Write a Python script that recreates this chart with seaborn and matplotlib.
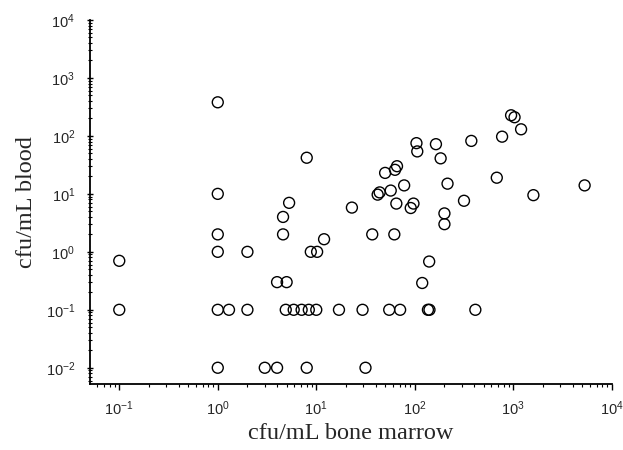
import matplotlib
matplotlib.use("Agg")
import matplotlib.pyplot as plt
import seaborn as sns
import pandas as pd
from matplotlib.ticker import LogLocator, LogFormatterSciNotation, NullFormatter

bone_marrow = [0.1, 0.1, 1, 1, 1, 1, 1, 1, 1.3, 2, 2, 3, 4, 8, 4, 5, 4.6, 4.6, 5.3, 8,
               8.8, 10.2, 12, 4.9, 5.9, 7.1, 8.4, 10, 17, 29.5, 55, 71, 136, 141, 412,
               31.6, 119, 140, 37, 62, 200, 200, 23, 65, 97, 91, 316, 1600, 5300, 680,
               215, 42, 44, 57, 78, 50, 63, 66, 183, 164, 106, 104, 375, 770, 1200, 950, 1030]
blood = [0.7, 0.1, 380, 10, 2, 1, 0.1, 0.01, 0.1, 1, 0.1, 0.01, 0.01, 0.01, 0.3, 0.3, 4, 2, 7, 42,
         1, 1, 1.65, 0.1, 0.1, 0.1, 0.1, 0.1, 0.1, 0.1, 0.1, 0.1, 0.1, 0.1, 0.1,
         0.01, 0.29, 0.68, 2, 2, 3, 4.6, 5.8, 6.8, 6.8, 5.7, 7.6, 9.5, 14, 19,
         15, 9.7, 10.6, 11.4, 14, 23, 26, 30, 41, 72, 54, 75, 82, 97, 130, 227, 210]

df = pd.DataFrame({"bone_marrow": bone_marrow, "blood": blood})

sns.set_theme(style="ticks")
plt.rcParams["font.family"] = ["Liberation Sans", "DejaVu Sans"]
plt.rcParams["mathtext.default"] = "regular"
plt.rcParams["axes.unicode_minus"] = False

fig = plt.figure(figsize=(6.23, 4.5), dpi=100)
ax = fig.add_axes([0.144, 0.1467, 0.838, 0.8089])

sns.scatterplot(data=df, x="bone_marrow", y="blood", ax=ax, s=62,
                facecolor="none", edgecolor="black", linewidth=1.0, zorder=3)

ax.set_xscale("log")
ax.set_yscale("log")
ax.set_xlim(10 ** -1.3, 1e4)
ax.set_ylim(10 ** -2.28, 1e4)

for a in (ax.xaxis, ax.yaxis):
    a.set_major_locator(LogLocator(base=10, numticks=20))
    a.set_minor_locator(LogLocator(base=10, subs=range(2, 10), numticks=20))
    a.set_minor_formatter(NullFormatter())
    a.set_major_formatter(LogFormatterSciNotation())

sns.despine(ax=ax)
for sp in ("left", "bottom"):
    ax.spines[sp].set_linewidth(1.3)
    ax.spines[sp].set_color("black")

ax.tick_params(axis="x", which="major", direction="out", length=4, width=1, pad=7,
               labelsize=10.5, color="black")
ax.tick_params(axis="x", which="minor", direction="out", length=2.5, width=0.8, color="black")
ax.tick_params(axis="y", which="major", direction="inout", length=5, width=1, pad=8,
               labelsize=10.5, color="black")
ax.tick_params(axis="y", which="minor", direction="inout", length=3, width=0.8, color="black")

ax.set_xlabel("cfu/mL bone marrow", fontfamily="Liberation Serif", fontsize=17.5, labelpad=4)
ax.set_ylabel("cfu/mL blood", fontfamily="Liberation Serif", fontsize=17.5, labelpad=6)
ax.grid(False)

fig.savefig("out.png", dpi=100)
